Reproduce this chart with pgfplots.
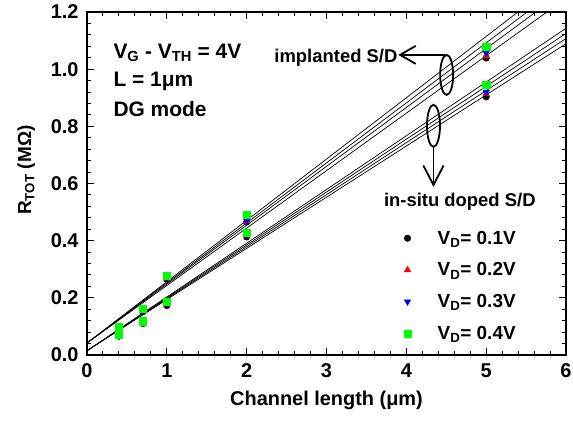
\documentclass[border=0pt]{standalone}
\usepackage{pgfplots}
\pgfplotsset{compat=1.18}
\usepackage{fontspec}
\setmainfont{Liberation Sans}
\usetikzlibrary{arrows.meta}
\definecolor{mygreen}{RGB}{0,255,0}
\definecolor{myblue}{RGB}{0,0,255}
\definecolor{myred}{RGB}{255,0,0}
\begin{document}
\begin{tikzpicture}
\path[use as bounding box] (0,0) rectangle (573bp,421bp);
\begin{axis}[
  at={(87bp,66bp)}, anchor=south west,
  scale only axis, width=479bp, height=343bp,
  xmin=0, xmax=6, ymin=0, ymax=1.2,
  xtick={0,1,...,6}, ytick={0,0.2,...,1.2},
  minor x tick num=4, minor y tick num=4,
  tick align=inside, tick pos=both,
  major tick length=7bp, minor tick length=4bp,
  axis line style={line width=1.6bp},
  every tick/.style={black, line width=1bp},
  /pgf/number format/assume math mode=true,
  xticklabel style={/pgf/number format/fixed, /pgf/number format/precision=0, yshift=-5bp},
  yticklabel style={/pgf/number format/fixed, /pgf/number format/fixed zerofill, /pgf/number format/precision=1, xshift=-5bp},
  tick label style={font=\fontsize{20}{20}\selectfont\bfseries},
  xlabel={Channel length (μm)},
  ylabel={R\textsubscript{TOT} (MΩ)},
  label style={font=\fontsize{20}{20}\selectfont\bfseries},
  xlabel style={at={(axis description cs:0.5,-0.131)}, anchor=center},
  ylabel style={at={(axis description cs:-0.127,0.539)}, anchor=center, rotate=0, font=\fontsize{19}{19}\selectfont\bfseries},
  legend style={draw=none, fill=none, at={(0.655,0.374)}, anchor=north west,
    font=\fontsize{19}{19}\selectfont\bfseries, row sep=13bp,
    legend cell align=left},
  legend image code/.code={\path (0.3cm,0cm) ++(28bp,0bp); \draw[#1] plot coordinates {(0.3cm,0cm)};},
  clip=true,
]
% fitted lines (implanted S/D)
\addplot[black, line width=0.7bp, forget plot] coordinates {(0,0.042) (6,1.248)};
\addplot[black, line width=0.7bp, forget plot] coordinates {(0,0.042) (6,1.278)};
\addplot[black, line width=0.7bp, forget plot] coordinates {(0,0.042) (6,1.302)};
\addplot[black, line width=0.7bp, forget plot] coordinates {(0,0.042) (6,1.329)};
% fitted lines (in-situ doped S/D)
\addplot[black, line width=0.7bp, forget plot] coordinates {(0,0.015) (6,1.089)};
\addplot[black, line width=0.7bp, forget plot] coordinates {(0,0.015) (6,1.107)};
\addplot[black, line width=0.7bp, forget plot] coordinates {(0,0.015) (6,1.125)};
\addplot[black, line width=0.7bp, forget plot] coordinates {(0,0.015) (6,1.143)};
% data
\addplot[only marks, mark=*, mark size=3.3bp, black] coordinates {
 (0.4,0.092) (0.7,0.152) (1,0.265) (2,0.465) (5,1.039)
 (0.4,0.066) (0.7,0.110) (1,0.173) (2,0.413) (5,0.903)};
\addlegendentry{V\textsubscript{D}= 0.1V}
\addplot[only marks, mark=triangle*, mark size=3.8bp, myred, mark options={fill=myred, draw=myred}] coordinates {
 (0.4,0.093) (0.7,0.153) (1,0.266) (2,0.468) (5,1.046)
 (0.4,0.067) (0.7,0.111) (1,0.175) (2,0.416) (5,0.913)};
\addlegendentry{V\textsubscript{D}= 0.2V}
\addplot[only marks, mark=triangle*, mark size=3.8bp, myblue, mark options={rotate=180, fill=myblue, draw=myblue}] coordinates {
 (0.4,0.095) (0.7,0.155) (1,0.268) (2,0.470) (5,1.057)
 (0.4,0.068) (0.7,0.112) (1,0.176) (2,0.418) (5,0.920)};
\addlegendentry{V\textsubscript{D}= 0.3V}
\addplot[only marks, mark=square*, mark size=3.6bp, mygreen, mark options={fill=mygreen, draw=mygreen}] coordinates {
 (0.4,0.100) (0.7,0.162) (1,0.278) (2,0.490) (5,1.078)
 (0.4,0.072) (0.7,0.118) (1,0.186) (2,0.428) (5,0.945)};
\addlegendentry{V\textsubscript{D}= 0.4V}
% annotations
\node[anchor=base west, font=\fontsize{21}{21}\selectfont\bfseries] at (axis cs:0.288,1.039) {V\textsubscript{G} - V\textsubscript{TH} = 4V};
\node[anchor=base west, font=\fontsize{21}{21}\selectfont\bfseries] at (axis cs:0.288,0.938) {L = 1μm};
\node[anchor=base west, font=\fontsize{21}{21}\selectfont\bfseries] at (axis cs:0.288,0.833) {DG mode};
\node[anchor=base east, font=\fontsize{18.5}{18.5}\selectfont\bfseries, inner sep=0pt] at (axis cs:3.89,1.022) {implanted S/D};
\node[anchor=base, font=\fontsize{18.5}{18.5}\selectfont\bfseries, inner sep=0pt] at (axis cs:4.67,0.518) {in-situ doped S/D};
\draw[line width=1.8bp] (axis cs:4.505,0.98) ellipse [x radius=6.5bp, y radius=20bp];
\draw[line width=1.8bp] (axis cs:4.34,0.802) ellipse [x radius=6.5bp, y radius=21bp];
\draw[line width=1.8bp, -{Straight Barb[angle=60:18bp]}] (axis cs:4.48,1.05) -- (axis cs:3.90,1.05);
\draw[line width=1.8bp, -{Straight Barb[angle=55:22bp]}] (axis cs:4.34,0.728) -- (axis cs:4.34,0.588);
\end{axis}
\end{tikzpicture}
\end{document}
